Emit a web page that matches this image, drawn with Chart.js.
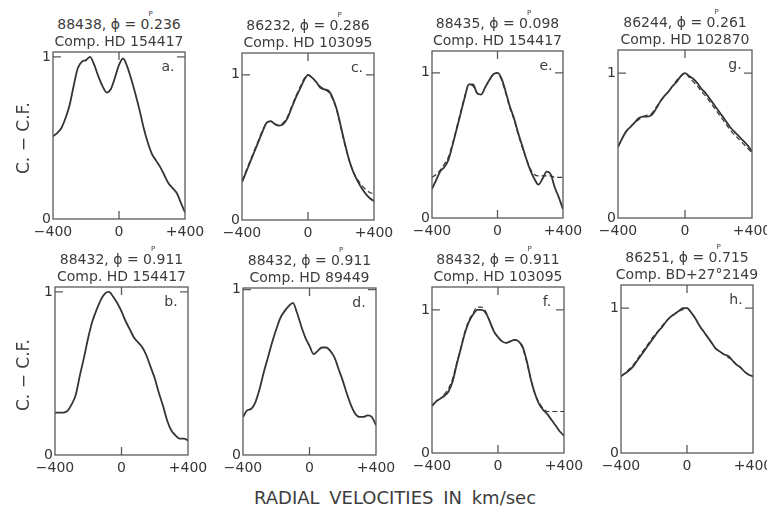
<!DOCTYPE html>
<html>
<head>
<meta charset="utf-8">
<script src="https://cdn.jsdelivr.net/npm/chart.js@4"></script>
<style>
  body { margin: 0; width: 767px; height: 510px; position: relative; overflow: hidden; background: #fff;
         font-family: "DejaVu Sans", sans-serif; color: #3d3d3d; }
  canvas { position: absolute; }
  .ttl { position: absolute; font-size: 14px; line-height: 16px; white-space: nowrap; transform: translateX(-50%); }
  .dp { position: relative; }
  .dp sup { position: absolute; left: -1px; top: -10px; font-size: 7px; }
  .lt { position: absolute; font-size: 14px; line-height: 16px; transform: translate(-50%, -50%); }
  .ylab { position: absolute; font-size: 17px; white-space: nowrap; transform: translate(-50%, -50%) rotate(-90deg); }
  .xlab { position: absolute; font-size: 18px; word-spacing: 4px; white-space: nowrap; transform: translate(-50%, -50%); }
</style>
</head>
<body>
<script>
// radial velocity grid (km/sec)
const velocity = [-400, -375, -350, -325, -300, -275, -250, -225, -200, -175, -150, -125, -100, -75, -50, -25,
                  0, 25, 50, 75, 100, 125, 150, 175, 200, 225, 250, 275, 300, 325, 350, 375, 400];

// C. - C.F. profiles, solid = observed, dashed = fit
const profA = [0.51, 0.53, 0.56, 0.62, 0.70, 0.82, 0.93, 0.97, 0.98, 1.00, 0.95, 0.88, 0.82, 0.78, 0.80, 0.87,
               0.95, 0.99, 0.94, 0.86, 0.77, 0.67, 0.56, 0.47, 0.40, 0.36, 0.32, 0.27, 0.22, 0.19, 0.16, 0.10, 0.04];
const profB = [0.26, 0.26, 0.26, 0.27, 0.31, 0.37, 0.49, 0.60, 0.72, 0.82, 0.89, 0.95, 0.99, 1.00, 0.97, 0.93,
               0.88, 0.82, 0.77, 0.72, 0.69, 0.66, 0.61, 0.54, 0.47, 0.38, 0.30, 0.21, 0.15, 0.12, 0.10, 0.10, 0.09];
const profC = [0.26, 0.33, 0.40, 0.47, 0.54, 0.61, 0.67, 0.68, 0.66, 0.65, 0.66, 0.70, 0.77, 0.84, 0.90, 0.96,
               1.00, 0.98, 0.95, 0.91, 0.90, 0.89, 0.84, 0.76, 0.64, 0.52, 0.41, 0.33, 0.27, 0.22, 0.18, 0.15, 0.13];
const fitC  = [0.27, 0.34, 0.41, 0.48, 0.55, 0.62, 0.67, 0.68, 0.66, 0.65, 0.67, 0.71, 0.78, 0.85, 0.91, 0.97,
               1.00, 0.98, 0.95, 0.92, 0.90, 0.88, 0.83, 0.75, 0.63, 0.51, 0.41, 0.33, 0.28, 0.24, 0.21, 0.19, 0.18];
const profD = [0.23, 0.27, 0.28, 0.32, 0.40, 0.50, 0.59, 0.68, 0.76, 0.83, 0.87, 0.90, 0.92, 0.86, 0.78, 0.71,
               0.66, 0.61, 0.63, 0.65, 0.65, 0.63, 0.59, 0.52, 0.45, 0.37, 0.30, 0.25, 0.23, 0.23, 0.24, 0.23, 0.18];
const profE = [0.20, 0.26, 0.32, 0.35, 0.40, 0.50, 0.61, 0.72, 0.83, 0.92, 0.92, 0.86, 0.85, 0.90, 0.95, 0.99,
               1.00, 0.96, 0.87, 0.77, 0.69, 0.59, 0.50, 0.41, 0.33, 0.27, 0.23, 0.27, 0.32, 0.30, 0.21, 0.14, 0.06];
const fitE  = [0.28, 0.30, 0.33, 0.37, 0.42, 0.51, 0.62, 0.73, 0.84, 0.92, 0.91, 0.86, 0.85, 0.90, 0.95, 0.99,
               1.00, 0.95, 0.86, 0.76, 0.68, 0.58, 0.49, 0.41, 0.34, 0.30, 0.29, 0.29, 0.29, 0.29, 0.28, 0.28, 0.28];
const profF = [0.33, 0.36, 0.38, 0.40, 0.43, 0.50, 0.62, 0.73, 0.84, 0.92, 0.97, 1.00, 1.00, 0.98, 0.92, 0.85,
               0.81, 0.78, 0.77, 0.78, 0.79, 0.78, 0.74, 0.64, 0.51, 0.41, 0.34, 0.30, 0.27, 0.23, 0.19, 0.15, 0.12];
const fitF  = [0.33, 0.36, 0.38, 0.41, 0.45, 0.52, 0.63, 0.74, 0.85, 0.93, 0.98, 1.02, 1.02, 0.99, 0.92, 0.85,
               0.81, 0.78, 0.77, 0.78, 0.79, 0.78, 0.73, 0.63, 0.51, 0.41, 0.35, 0.31, 0.29, 0.29, 0.29, 0.29, 0.29];
const profG = [0.49, 0.55, 0.60, 0.63, 0.66, 0.69, 0.70, 0.70, 0.71, 0.75, 0.80, 0.84, 0.87, 0.91, 0.94, 0.98,
               1.00, 0.98, 0.96, 0.93, 0.89, 0.86, 0.82, 0.78, 0.74, 0.70, 0.66, 0.62, 0.59, 0.56, 0.53, 0.50, 0.46];
const fitG  = [0.49, 0.55, 0.60, 0.63, 0.66, 0.68, 0.70, 0.71, 0.72, 0.76, 0.80, 0.84, 0.87, 0.91, 0.95, 0.98,
               1.00, 0.97, 0.94, 0.91, 0.87, 0.84, 0.80, 0.76, 0.72, 0.68, 0.64, 0.60, 0.57, 0.54, 0.51, 0.48, 0.45];
const profH = [0.53, 0.55, 0.57, 0.60, 0.64, 0.68, 0.72, 0.76, 0.80, 0.84, 0.87, 0.91, 0.94, 0.96, 0.98, 1.00,
               1.00, 0.97, 0.93, 0.88, 0.84, 0.80, 0.76, 0.72, 0.70, 0.68, 0.67, 0.64, 0.61, 0.59, 0.56, 0.54, 0.53];
const fitH  = [0.53, 0.55, 0.58, 0.61, 0.65, 0.69, 0.73, 0.77, 0.81, 0.84, 0.88, 0.91, 0.94, 0.96, 0.98, 0.99,
               1.00, 0.97, 0.93, 0.88, 0.84, 0.80, 0.76, 0.72, 0.70, 0.68, 0.66, 0.64, 0.61, 0.59, 0.56, 0.54, 0.53];

const xTicks = [-400, 0, 400];
const xTickLabels = ['\u2212400', '0', '+400'];
const yTicks = [0, 1];
const yTickLabels = ['0', '1'];

// panel captions
const panelIds  = ['a', 'b', 'c', 'd', 'e', 'f', 'g', 'h'];
const stars     = ['88438', '88432', '86232', '88432', '88435', '88432', '86244', '86251'];
const phases    = ['0.236', '0.911', '0.286', '0.911', '0.098', '0.911', '0.261', '0.715'];
const comps     = ['HD 154417', 'HD 154417', 'HD 103095', 'HD 89449', 'HD 154417', 'HD 103095', 'HD 102870', 'BD+27\u00b02149'];
const observed  = [profA, profB, profC, profD, profE, profF, profG, profH];
const fitted    = [null, null, fitC, null, fitE, fitF, fitG, fitH];
const yMaxes    = [1.03, 1.03, 1.15, 1.01, 1.15, 1.16, 1.16, 1.16];

// plot frames on the page: left, top, right, bottom
const frames = [[53, 52, 185, 219], [55, 287, 188, 455], [242, 53, 374, 220], [243, 288, 376, 455],
                [432, 51, 563, 218], [432, 287, 564, 453], [618, 50, 752, 218], [621, 285, 753, 453]];

const INK = '#353535';
const PAD_L = 40, PAD_T = 16, PAD_R = 30, PAD_B = 28;

const framePlugin = {
  id: 'frame',
  afterDatasetsDraw(chart) {
    const { ctx, chartArea: a, scales: { x, y } } = chart;
    const x0 = x.getPixelForValue(0), y1 = y.getPixelForValue(1);
    ctx.save();
    ctx.strokeStyle = '#5a5a5a';
    ctx.lineWidth = 1.3;
    ctx.strokeRect(a.left, a.top, a.right - a.left, a.bottom - a.top);
    ctx.beginPath();
    ctx.moveTo(x0, a.top); ctx.lineTo(x0, a.top + 8);
    ctx.moveTo(x0, a.bottom); ctx.lineTo(x0, a.bottom - 8);
    ctx.moveTo(a.left, y1); ctx.lineTo(a.left + 8, y1);
    ctx.moveTo(a.right, y1); ctx.lineTo(a.right - 8, y1);
    ctx.stroke();
    ctx.restore();
  }
};

function addDiv(cls, html, left, top) {
  const d = document.createElement('div');
  d.className = cls;
  d.innerHTML = html;
  d.style.left = left + 'px';
  d.style.top = top + 'px';
  document.body.appendChild(d);
}

panelIds.forEach((id, i) => {
  const [L, T, R, B] = frames[i];
  const w = R - L + PAD_L + PAD_R, h = B - T + PAD_T + PAD_B;
  const cv = document.createElement('canvas');
  cv.width = w; cv.height = h;
  cv.style.left = (L - PAD_L) + 'px';
  cv.style.top = (T - PAD_T) + 'px';
  cv.style.width = w + 'px';
  cv.style.height = h + 'px';
  document.body.appendChild(cv);

  const datasets = [{
    data: velocity.map((v, k) => ({ x: v, y: observed[i][k] })),
    borderColor: INK, borderWidth: 1.8, pointRadius: 0, cubicInterpolationMode: 'monotone'
  }];
  if (fitted[i]) {
    datasets.push({
      data: velocity.map((v, k) => ({ x: v, y: fitted[i][k] })),
      borderColor: INK, borderWidth: 1.2, borderDash: [5, 3], pointRadius: 0, cubicInterpolationMode: 'monotone'
    });
  }

  new Chart(cv, {
    type: 'line',
    data: { datasets },
    options: {
      responsive: false,
      animation: false,
      layout: { padding: { left: 0, top: PAD_T, right: PAD_R, bottom: 0 } },
      plugins: { legend: { display: false }, tooltip: { enabled: false } },
      scales: {
        x: {
          type: 'linear', min: -400, max: 400,
          grid: { display: false, drawTicks: false }, border: { display: false },
          afterBuildTicks: s => { s.ticks = xTicks.map(v => ({ value: v })); },
          afterFit: s => { s.height = PAD_B; },
          ticks: { padding: 5, maxRotation: 0, color: INK, font: { family: 'DejaVu Sans', size: 14 },
                   callback: v => xTickLabels[xTicks.indexOf(v)] }
        },
        y: {
          min: 0, max: yMaxes[i],
          grid: { display: false, drawTicks: false }, border: { display: false },
          afterBuildTicks: s => { s.ticks = yTicks.map(v => ({ value: v })); },
          afterFit: s => { s.width = PAD_L; },
          ticks: { padding: 2, color: INK, font: { family: 'DejaVu Sans', size: 14 },
                   callback: v => yTickLabels[yTicks.indexOf(v)] }
        }
      }
    },
    plugins: [framePlugin]
  });

  const cx = (L + R) / 2;
  const [ip, fp] = phases[i].split('.');
  addDiv('ttl', `${stars[i]}, \u03d5 = ${ip}<span class="dp">.<sup>P</sup></span>${fp}`, cx, T - 36);
  addDiv('ttl', `Comp. ${comps[i]}`, cx, T - 19);
  addDiv('lt', id + '.', R - 17, T + 14);
});

addDiv('ylab', 'C. \u2212 C.F.', 23, 138);
addDiv('ylab', 'C. \u2212 C.F.', 23, 375);
addDiv('xlab', 'RADIAL VELOCITIES IN km/sec', 395, 497);
</script>
</body>
</html>
